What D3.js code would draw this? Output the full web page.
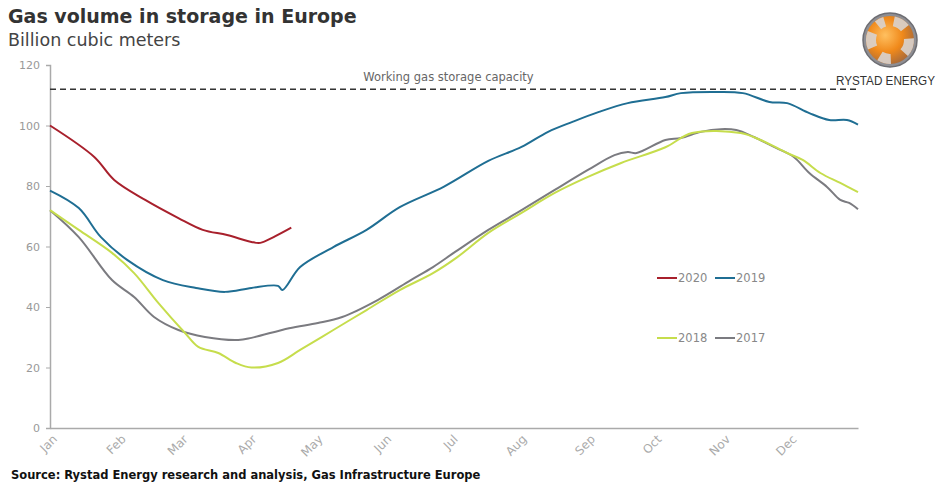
<!DOCTYPE html>
<html>
<head>
<meta charset="utf-8">
<script src="https://cdn.jsdelivr.net/npm/d3@7"></script>
<style>
  body { margin: 0; background: #fff; }
  svg { display: block; font-family: "DejaVu Sans", Verdana, sans-serif; }
  text.month-label { transform: rotate(-45deg); transform-origin: 0 0; transform-box: view-box; }
</style>
</head>
<body>
<svg id="chart" width="937" height="486"></svg>
<script>
// day of year (0..365) and storage in bcm
const days2020 = [0, 20, 29, 43, 58, 69, 80, 91, 95, 101, 109];
const vals2020 = [100, 89.6, 82, 75.4, 69.4, 65.5, 63.8, 61.5, 61.2, 63.1, 66.2];

const days2019 = [0, 13, 23, 35, 51, 66, 79, 91, 103, 105, 113, 128, 143, 158, 178, 198,
  213, 225, 236, 248, 261, 278, 285, 301, 313, 325, 333, 343, 352, 360, 365];
const vals2019 = [78.5, 72.7, 63.1, 55.5, 48.9, 46.3, 45, 46.3, 47, 45.6, 53.2, 59.8, 65.5, 73, 79.8, 88.3,
  92.9, 97.9, 101.2, 104.5, 107.4, 109.4, 110.7, 111.1, 110.7, 107.8, 107.4, 104.1, 101.8, 101.8, 100.3];

const days2018 = [0, 13, 28, 38, 49, 61, 67, 76, 84, 91, 103, 113, 128, 143, 158, 173,
  184, 198, 213, 228, 243, 258, 278, 290, 312, 321, 333, 340, 348, 357, 365];
const vals2018 = [72, 65.5, 57.9, 51.2, 41.3, 31.4, 26.8, 24.8, 21.5, 20, 21.5, 25.8, 32.4, 39, 45.6, 51.2,
  56.5, 64.5, 71.1, 77.7, 83, 87.6, 92.8, 97.5, 97.5, 95.2, 90.9, 88.6, 84.3, 81, 78];

const days2017 = [0, 13, 28, 38, 47, 58, 70, 85, 91, 108, 121, 132, 148, 163, 173, 183,
  198, 213, 228, 243, 255, 261, 265, 278, 285, 294, 303, 310, 318, 328, 336, 343, 351, 357, 361, 365];
const vals2017 = [72, 63.1, 48.9, 43.3, 36.7, 32.4, 30.1, 29.1, 29.8, 33, 34.7, 36.7, 42.3, 48.9, 53.2, 58.2,
  65.5, 72, 78.7, 85.3, 90.2, 91.2, 90.9, 95.2, 95.9, 97.9, 98.8, 98.5, 96.2, 92.6, 89.6, 84.3, 79.7, 75.4, 74.4, 72.3];

const seriesNames = ["2020", "2019", "2018", "2017"];
const seriesColors = ["#a8202c", "#1f6e93", "#c6dd4c", "#7b7b80"];

const monthDays = [0, 31, 59, 90, 120, 151, 181, 212, 243, 273, 304, 334];
const monthLabels = ["Jan", "Feb", "Mar", "Apr", "May", "Jun", "Jul", "Aug", "Sep", "Oct", "Nov", "Dec"];
const yTicks = [0, 20, 40, 60, 80, 100, 120];
const capacity = 112;

const svg = d3.select("svg#chart");
const margin = {left: 50, right: 79, top: 65, bottom: 58};
const w = 937 - margin.left - margin.right;
const h = 486 - margin.top - margin.bottom;

const xScale = d3.scaleLinear().domain([0, 365]).range([0, w]);
const yScale = d3.scaleLinear().domain([0, 120]).range([h, 0]);

const g = svg.append("g")
    .attr("transform", "translate(" + margin.left + ", " + margin.top + ")");

// titles
svg.append("text").attr("x", 8).attr("y", 23)
    .attr("font-size", 19).attr("font-weight", "bold").attr("fill", "#333")
    .text("Gas volume in storage in Europe");
svg.append("text").attr("x", 8).attr("y", 46)
    .attr("font-size", 17.5).attr("fill", "#444")
    .text("Billion cubic meters");
svg.append("text").attr("x", 11).attr("y", 479)
    .attr("font-size", 11.5).attr("font-weight", "bold").attr("fill", "#111")
    .text("Source: Rystad Energy research and analysis, Gas Infrastructure Europe");

// y axis
const yAxis = g.append("g")
    .call(d3.axisLeft(yScale).tickValues(yTicks).tickSize(4).tickPadding(6));
yAxis.select(".domain").attr("stroke", "#aaa").attr("stroke-width", 1.5);
yAxis.selectAll(".tick line").attr("stroke", "#aaa");
yAxis.selectAll(".tick text").attr("fill", "#999").attr("font-size", 11)
    .attr("font-family", "DejaVu Sans, sans-serif");

// x axis (line only, labels drawn rotated below)
const xAxis = g.append("g")
    .attr("transform", "translate(0, " + h + ")")
    .call(d3.axisBottom(xScale).tickValues(monthDays).tickFormat("").tickSize(0));
xAxis.select(".domain").attr("stroke", "#aaa").attr("stroke-width", 1.5);

const monthG = g.selectAll("g.month")
    .data(monthDays)
    .join("g")
    .attr("class", "month")
    .attr("transform", (d) => "translate(" + (xScale(d) + 5) + "," + (h + 9) + ")");
monthG.append("text")
    .attr("class", "month-label")
    .attr("text-anchor", "end")
    .attr("dy", "0.35em")
    .attr("font-size", 12)
    .attr("fill", "#aaa")
    .text((d, i) => monthLabels[i]);

// capacity line
g.append("line")
    .attr("x1", xScale(0)).attr("x2", xScale(365))
    .attr("y1", yScale(capacity)).attr("y2", yScale(capacity))
    .attr("stroke", "#333").attr("stroke-width", 1.5)
    .attr("stroke-dasharray", "6,4");
g.append("text")
    .attr("x", xScale(180)).attr("y", yScale(capacity) - 8)
    .attr("text-anchor", "middle").attr("font-size", 11.5).attr("fill", "#666")
    .text("Working gas storage capacity");

// series
const allDays = [days2020, days2019, days2018, days2017];
const allVals = [vals2020, vals2019, vals2018, vals2017];
const line = d3.line()
    .x((d) => xScale(d[0]))
    .y((d) => yScale(d[1]))
    .curve(d3.curveCatmullRom.alpha(0.5));

// draw oldest first so 2020 sits on top
[3, 2, 1, 0].forEach((i) => {
  const pts = allDays[i].map((d, k) => [d, allVals[i][k]]);
  g.append("path")
      .datum(pts)
      .attr("fill", "none")
      .attr("stroke", seriesColors[i])
      .attr("stroke-width", 2)
      .attr("stroke-linejoin", "round")
      .attr("d", line);
});

// legend
const legendPos = [[657, 278], [715, 278], [657, 338], [715, 338]];
seriesNames.forEach((name, i) => {
  const lg = svg.append("g")
      .attr("transform", "translate(" + legendPos[i][0] + ", " + legendPos[i][1] + ")");
  lg.append("line").attr("x1", 0).attr("x2", 20).attr("y1", 0).attr("y2", 0)
      .attr("stroke", seriesColors[i]).attr("stroke-width", 2);
  lg.append("text").attr("x", 21).attr("y", 4)
      .attr("font-size", 11.5).attr("fill", "#888").text(name);
});

// logo
const defs = svg.append("defs");
const grad = defs.append("radialGradient").attr("id", "globe")
    .attr("cx", "40%").attr("cy", "40%").attr("r", "65%");
grad.append("stop").attr("offset", "0%").attr("stop-color", "#ffc060");
grad.append("stop").attr("offset", "55%").attr("stop-color", "#f0891a");
grad.append("stop").attr("offset", "100%").attr("stop-color", "#a86a3a");
const logo = svg.append("g").attr("transform", "translate(890, 40)");
logo.append("circle").attr("r", 27).attr("fill", "#8e8e93");
logo.append("circle").attr("r", 24).attr("fill", "url(#globe)");
const arc = d3.arc().innerRadius(14).outerRadius(24);
[[0.2, 0.9], [1.5, 2.3], [3.1, 3.7], [4.3, 5.1], [5.6, 6.0]].forEach(([a0, a1]) => {
  logo.append("path").attr("d", arc({startAngle: a0, endAngle: a1}))
      .attr("fill", "#d8d3cf").attr("opacity", 0.9);
});
logo.append("circle").attr("r", 27).attr("fill", "none")
    .attr("stroke", "#6d6d72").attr("stroke-width", 1.5);
svg.append("text").attr("x", 935).attr("y", 85)
    .attr("text-anchor", "end").attr("font-size", 12)
    .attr("font-family", "Liberation Sans Narrow, Liberation Sans, sans-serif")
    .attr("fill", "#333").attr("textLength", 99).attr("lengthAdjust", "spacingAndGlyphs")
    .text("RYSTAD ENERGY");
</script>
</body>
</html>
